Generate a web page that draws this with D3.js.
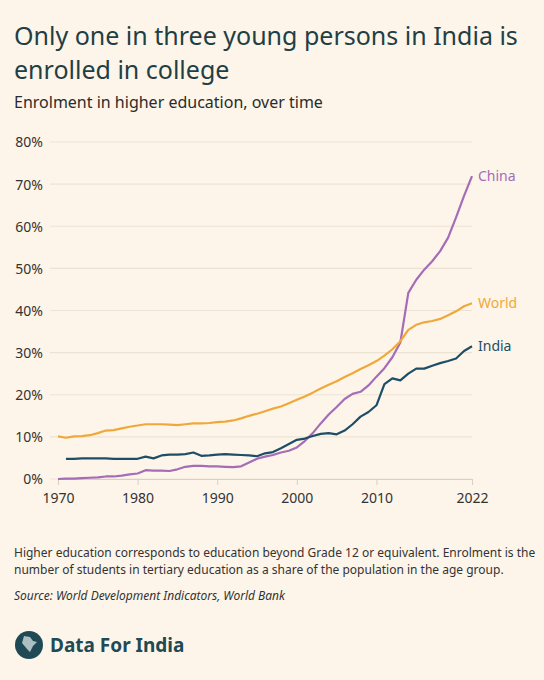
<!DOCTYPE html>
<html>
<head>
<meta charset="utf-8">
<script src="https://cdn.jsdelivr.net/npm/d3@7"></script>
<style>
  body { margin: 0; background: #fdf5e9; }
  svg { display: block; font-family: "Noto Sans", sans-serif; }
</style>
</head>
<body>
<div id="chart"></div>
<script>
// values (% enrolment in tertiary education)
const years = d3.range(1970, 2023);
const worldValues = [10.1, 9.8, 10.1, 10.2, 10.4, 10.9, 11.5, 11.6, 12.0, 12.4, 12.7, 13.0, 13.0, 13.0, 12.9, 12.8, 13.0, 13.2, 13.2, 13.3, 13.5, 13.6, 13.9, 14.4, 15.0, 15.5, 16.1, 16.7, 17.2, 18.0, 18.8, 19.6, 20.5, 21.5, 22.4, 23.2, 24.2, 25.1, 26.1, 27.0, 28.0, 29.3, 30.8, 32.7, 35.4, 36.6, 37.2, 37.5, 38.0, 38.9, 39.8, 41.0, 41.7];
const indiaValues = [null, 4.8, 4.8, 4.9, 4.9, 4.9, 4.9, 4.8, 4.8, 4.8, 4.8, 5.3, 4.9, 5.6, 5.8, 5.8, 5.9, 6.3, 5.5, 5.6, 5.8, 5.9, 5.8, 5.7, 5.6, 5.4, 6.1, 6.4, 7.3, 8.3, 9.3, 9.6, 10.2, 10.7, 10.9, 10.6, 11.5, 13.0, 14.8, 15.9, 17.5, 22.5, 23.9, 23.4, 25.0, 26.2, 26.2, 26.9, 27.5, 28.0, 28.6, 30.4, 31.5];
const chinaValues = [0.0, 0.1, 0.1, 0.2, 0.3, 0.4, 0.6, 0.6, 0.8, 1.1, 1.3, 2.1, 2.0, 2.0, 1.9, 2.3, 2.9, 3.1, 3.1, 3.0, 3.0, 2.9, 2.8, 3.0, 3.9, 4.8, 5.3, 5.7, 6.3, 6.7, 7.5, 9.0, 10.9, 13.2, 15.3, 17.1, 19.0, 20.2, 20.7, 22.2, 24.3, 26.3, 28.9, 32.4, 44.2, 47.3, 49.7, 51.7, 54.1, 57.3, 62.1, 67.2, 71.9];
const yTicks = [0, 10, 20, 30, 40, 50, 60, 70, 80];
const xTicks = [1970, 1980, 1990, 2000, 2010, 2022];

const series = [
    { name: "China", values: chinaValues, color: "#a56cb7" },
    { name: "World", values: worldValues, color: "#f0a83a" },
    { name: "India", values: indiaValues, color: "#1e4d68" }
];

const width = 544, height = 680;
const svg = d3.select("#chart").append("svg")
    .attr("width", width)
    .attr("height", height);

svg.append("rect").attr("width", width).attr("height", height).attr("fill", "#fdf5e9");

const ink = "#1f3f45";

// titles
svg.append("text").attr("x", 14).attr("y", 45).attr("font-size", 25).attr("fill", ink)
    .text("Only one in three young persons in India is");
svg.append("text").attr("x", 14).attr("y", 79).attr("font-size", 25).attr("fill", ink)
    .text("enrolled in college");
svg.append("text").attr("x", 14).attr("y", 108).attr("font-size", 16).attr("fill", "#2b2b2b")
    .text("Enrolment in higher education, over time");

const x = d3.scaleLinear().domain([1970, 2022]).range([58, 472]);
const y = d3.scaleLinear().domain([0, 80]).range([479, 142]);

// gridlines
svg.append("g").selectAll("line")
    .data(yTicks)
    .enter().append("line")
    .attr("x1", 50).attr("x2", 472)
    .attr("y1", d => y(d)).attr("y2", d => y(d))
    .attr("stroke", "#ece3d5").attr("stroke-width", 1.2);

// y axis labels
const yAxis = svg.append("g")
    .attr("transform", "translate(46,0)")
    .call(d3.axisLeft(y).tickValues(yTicks).tickSize(0).tickFormat(d => d + "%"));
yAxis.select(".domain").remove();
yAxis.selectAll("text").attr("font-size", 14).attr("fill", "#333").attr("font-family", "Noto Sans").attr("dx", 0).attr("dy", "0.35em");

// x axis
const xAxis = svg.append("g")
    .attr("transform", "translate(0,479)")
    .call(d3.axisBottom(x).tickValues(xTicks).tickSize(6).tickFormat(d3.format("d")));
xAxis.select(".domain").attr("stroke", "#d9d0c2");
xAxis.selectAll("line").attr("stroke", "#d9d0c2");
xAxis.selectAll("text").attr("font-size", 14).attr("fill", "#333").attr("font-family", "Noto Sans").attr("dy", "1.1em");

const line = d3.line()
    .defined(d => d != null)
    .x((d, i) => x(years[i]))
    .y(d => y(d));

svg.append("g").selectAll("path")
    .data(series)
    .enter().append("path")
    .attr("d", d => line(d.values))
    .attr("fill", "none")
    .attr("stroke", d => d.color)
    .attr("stroke-width", 2.2)
    .attr("stroke-linejoin", "round");

// end labels
svg.append("g").selectAll("text")
    .data(series)
    .enter().append("text")
    .attr("x", x(2022) + 6)
    .attr("y", d => y(d.values[d.values.length - 1]) + 5)
    .attr("font-size", 14)
    .attr("fill", d => d.color)
    .text(d => d.name);

// footnote
const note = svg.append("g").attr("font-size", 12).attr("fill", "#333");
note.append("text").attr("x", 14).attr("y", 557)
    .text("Higher education corresponds to education beyond Grade 12 or equivalent. Enrolment is the");
note.append("text").attr("x", 14).attr("y", 574)
    .text("number of students in tertiary education as a share of the population in the age group.");
note.append("text").attr("x", 14).attr("y", 600).attr("font-style", "italic")
    .text("Source: World Development Indicators, World Bank");

// logo
svg.append("circle").attr("cx", 29).attr("cy", 645).attr("r", 14).attr("fill", "#1f4a55");
svg.append("path")
    .attr("d", "M24,636 L30,637 L33,641 L37,642 L33,646 L30,652 L27,649 L22,643 Z")
    .attr("fill", "#cfdcdc").attr("opacity", 0.8);
svg.append("text").attr("x", 50).attr("y", 652).attr("font-size", 19).attr("font-weight", "bold")
    .attr("fill", "#1f4a55").text("Data For India");
</script>
</body>
</html>
